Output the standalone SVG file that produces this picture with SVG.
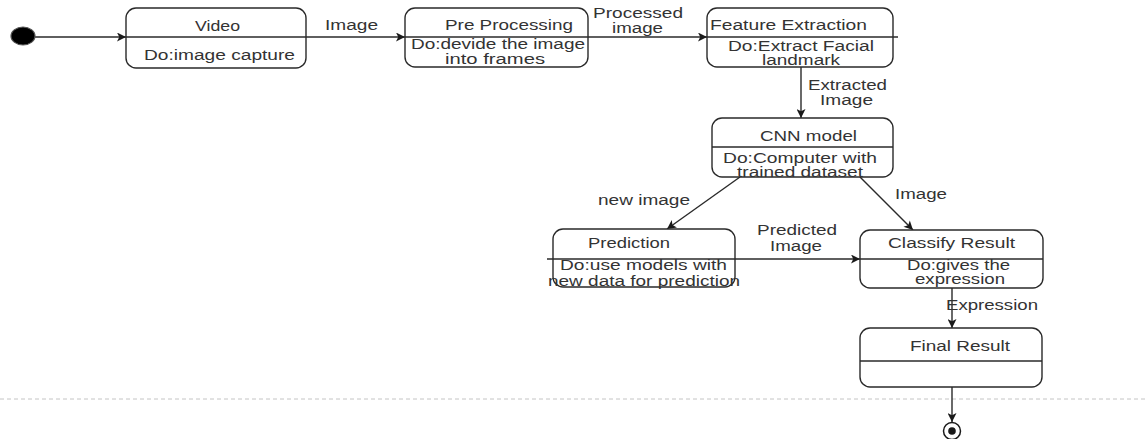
<svg xmlns="http://www.w3.org/2000/svg" width="1148" height="439" viewBox="0 0 1148 439">
  <defs>
    <marker id="arrow" viewBox="0 0 10 10" refX="10" refY="5" markerWidth="10" markerHeight="9" markerUnits="userSpaceOnUse" orient="auto">
      <path d="M0,0 L10,5 L0,10 L2.5,5 z" fill="#1a1a1a"/>
    </marker>
    <style>
      .box { fill: #ffffff; stroke: #2a2a2a; stroke-width: 1.4; }
      .div { stroke: #2a2a2a; stroke-width: 1.3; }
      .edge { stroke: #2a2a2a; stroke-width: 1.4; fill: none; marker-end: url(#arrow); }
      .t { font-family: "Liberation Sans", Arial, sans-serif; font-size: 14px; fill: #333333; }
    </style>
  </defs>
  <rect x="0" y="0" width="1148" height="439" fill="#ffffff"/>

  <!-- swimlane separator -->
  <line x1="0" y1="399" x2="1148" y2="399" stroke="#c4c4c4" stroke-width="1" stroke-dasharray="4 3"/>

  <!-- connectors -->
  <g id="connectors">
    <line class="edge" x1="35" y1="37" x2="126" y2="37"/>
    <line class="edge" x1="306" y1="37" x2="405" y2="37"/>
    <line class="edge" x1="588" y1="37" x2="707" y2="37"/>
    <line class="edge" x1="801" y1="67" x2="801" y2="118"/>
    <line class="edge" x1="740" y1="177" x2="667" y2="229"/>
    <line class="edge" x1="860" y1="177" x2="913" y2="230"/>
    <line class="edge" x1="735" y1="259" x2="860" y2="259"/>
    <line class="edge" x1="952" y1="288" x2="952" y2="328"/>
    <line class="edge" x1="952" y1="387" x2="952" y2="422"/>

    <text class="t" x="325" y="30" textLength="53" lengthAdjust="spacingAndGlyphs">Image</text>
    <text class="t" x="593" y="18" textLength="90" lengthAdjust="spacingAndGlyphs">Processed</text>
    <text class="t" x="612" y="33" textLength="51" lengthAdjust="spacingAndGlyphs">image</text>
    <text class="t" x="808" y="90" textLength="79" lengthAdjust="spacingAndGlyphs">Extracted</text>
    <text class="t" x="820" y="105" textLength="53" lengthAdjust="spacingAndGlyphs">Image</text>
    <text class="t" x="598" y="205" textLength="92" lengthAdjust="spacingAndGlyphs">new image</text>
    <text class="t" x="895" y="199" textLength="52" lengthAdjust="spacingAndGlyphs">Image</text>
    <text class="t" x="757" y="235" textLength="80" lengthAdjust="spacingAndGlyphs">Predicted</text>
    <text class="t" x="770" y="251" textLength="52" lengthAdjust="spacingAndGlyphs">Image</text>
    <text class="t" x="946" y="310" textLength="92" lengthAdjust="spacingAndGlyphs">Expression</text>
  </g>

  <!-- initial state -->
  <g id="start">
    <ellipse cx="23" cy="36" rx="12" ry="9" fill="#000000" stroke="#555555" stroke-width="1.2"/>
  </g>

  <g id="video">
    <rect class="box" x="126" y="8" width="180" height="60" rx="10"/>
    <line class="div" x1="126" y1="37" x2="306" y2="37"/>
    <text class="t" x="195" y="31" textLength="45" lengthAdjust="spacingAndGlyphs">Video</text>
    <text class="t" x="144" y="60" textLength="151" lengthAdjust="spacingAndGlyphs">Do:image capture</text>
  </g>

  <g id="preprocessing">
    <rect class="box" x="405" y="8" width="183" height="59" rx="10"/>
    <line class="div" x1="405" y1="37" x2="588" y2="37"/>
    <text class="t" x="445" y="30" textLength="128" lengthAdjust="spacingAndGlyphs">Pre Processing</text>
    <text class="t" x="411" y="49" textLength="174" lengthAdjust="spacingAndGlyphs">Do:devide the image</text>
    <text class="t" x="445" y="64" textLength="100" lengthAdjust="spacingAndGlyphs">into frames</text>
  </g>

  <g id="feature-extraction">
    <rect class="box" x="707" y="8" width="186" height="59" rx="10"/>
    <line class="div" x1="707" y1="37" x2="898" y2="37"/>
    <text class="t" x="710" y="30" textLength="157" lengthAdjust="spacingAndGlyphs">Feature Extraction</text>
    <text class="t" x="728" y="51" textLength="146" lengthAdjust="spacingAndGlyphs">Do:Extract Facial</text>
    <text class="t" x="762" y="65" textLength="78" lengthAdjust="spacingAndGlyphs">landmark</text>
  </g>

  <g id="cnn-model">
    <rect class="box" x="712" y="118" width="181" height="59" rx="10"/>
    <line class="div" x1="712" y1="147" x2="893" y2="147"/>
    <text class="t" x="760" y="141" textLength="97" lengthAdjust="spacingAndGlyphs">CNN model</text>
    <text class="t" x="723" y="163" textLength="154" lengthAdjust="spacingAndGlyphs">Do:Computer with</text>
    <text class="t" x="737" y="177" textLength="126" lengthAdjust="spacingAndGlyphs">trained dataset</text>
  </g>

  <g id="prediction">
    <rect class="box" x="553" y="229" width="182" height="58" rx="10"/>
    <line class="div" x1="547" y1="259" x2="735" y2="259"/>
    <text class="t" x="588" y="248" textLength="82" lengthAdjust="spacingAndGlyphs">Prediction</text>
    <text class="t" x="560" y="270" textLength="167" lengthAdjust="spacingAndGlyphs">Do:use models with</text>
    <text class="t" x="548" y="286" textLength="192" lengthAdjust="spacingAndGlyphs">new data for prediction</text>
  </g>

  <g id="classify-result">
    <rect class="box" x="860" y="230" width="183" height="58" rx="10"/>
    <line class="div" x1="860" y1="259" x2="1043" y2="259"/>
    <text class="t" x="888" y="248" textLength="127" lengthAdjust="spacingAndGlyphs">Classify Result</text>
    <text class="t" x="907" y="270" textLength="103" lengthAdjust="spacingAndGlyphs">Do:gives the</text>
    <text class="t" x="915" y="284" textLength="90" lengthAdjust="spacingAndGlyphs">expression</text>
  </g>

  <g id="final-result">
    <rect class="box" x="860" y="328" width="182" height="59" rx="10"/>
    <line class="div" x1="860" y1="361" x2="1042" y2="361"/>
    <text class="t" x="910" y="351" textLength="100" lengthAdjust="spacingAndGlyphs">Final Result</text>
  </g>

  <!-- final state -->
  <g id="end">
    <circle cx="952" cy="431" r="8.5" fill="#ffffff" stroke="#1a1a1a" stroke-width="1.5"/>
    <circle cx="952" cy="431" r="3.8" fill="#1a1a1a"/>
  </g>
</svg>
